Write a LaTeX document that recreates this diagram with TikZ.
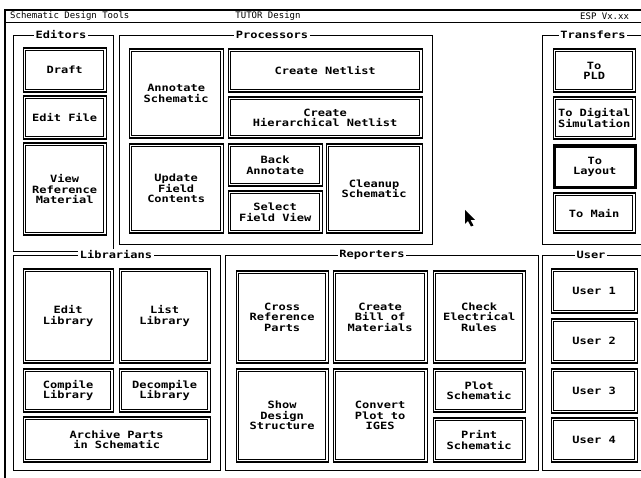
\documentclass[tikz,border=0pt]{standalone}
\usepackage{fontspec}
\newfontfamily\scrfont{DejaVu Sans Mono}[FakeStretch=1.2]
\newfontfamily\barfamily{DejaVu Sans Mono}
\newcommand\btnfont{\scrfont\bfseries\fontsize{10}{10.5}\selectfont}
\newcommand\barfont{\barfamily\fontsize{9}{10}\selectfont}
\newcommand\mkbtn[7][]{%
  \node[btn, #1, minimum width={(#5-#3-1)*1pt}, minimum height={(#6-#4-1)*1pt}] (#2) at (#3+0.5,#4+0.5) {#7};
  \draw[inner] ([shift={(3pt,-3pt)}]#2.north west) rectangle ([shift={(-3pt,3pt)}]#2.south east);}
\begin{document}
\begin{tikzpicture}[x=1pt,y=-1pt,
  btn/.style={draw, line width=1.3pt, anchor=north west, inner sep=0pt, align=center, font=\btnfont},
  inner/.style={draw, line width=0.7pt},
  selbtn/.style={line width=2.6pt},
  grp/.style={draw, line width=0.9pt},
  gtitle/.style={fill=white, inner sep=1.5pt, font=\btnfont},
  bartext/.style={font=\barfont, inner sep=0pt}]
\useasboundingbox[fill=white] (0,0) rectangle (641,478);
% outer screen frame
\draw[line width=1.1pt] (5,478) -- (5,10) -- (645,10);
\draw[line width=0.9pt] (5,22) -- (645,22);
\node[bartext, anchor=west] (tl) at (10,16) {Schematic Design Tools};
\node[bartext] (tc) at (268,16) {TUTOR Design};
\node[bartext, anchor=west] (tr) at (580,16) {ESP Vx.xx};
% group frames
\draw[grp] (13,35) rectangle (113,251);
\node[gtitle] (gEd) at (61,35) {Editors};
\draw[grp] (119,35) rectangle (432,244);
\node[gtitle] (gPr) at (272,35) {Processors};
\draw[grp] (542,35) rectangle (646,244);
\node[gtitle] (gTr) at (593,35) {Transfers};
\draw[grp] (13,255) rectangle (220,470);
\node[gtitle] (gLi) at (116,255) {Librarians};
\draw[grp] (225,255) rectangle (538,470);
\node[gtitle] (gRe) at (372,255) {Reporters};
\draw[grp] (542,255) rectangle (646,470);
\node[gtitle] (gUs) at (591,255) {User};
% Editors
\mkbtn{draft}{22}{47}{106}{92}{Draft}
\mkbtn{editfile}{22}{95}{106}{139}{Edit File}
\mkbtn{viewref}{22}{142}{106}{235}{View\\Reference\\Material}
% Processors
\mkbtn{annot}{128}{48}{223}{138}{Annotate\\Schematic}
\mkbtn{netlist}{227}{48}{422}{92}{Create Netlist}
\mkbtn{hnetlist}{227}{96}{422}{138}{Create\\Hierarchical Netlist}
\mkbtn{update}{128}{143}{223}{233}{Update\\Field\\Contents}
\mkbtn{back}{227}{143}{322}{186}{Back\\Annotate}
\mkbtn{select}{227}{190}{322}{233}{Select\\Field View}
\mkbtn{cleanup}{325}{143}{422}{233}{Cleanup\\Schematic}
% Transfers
\mkbtn{pld}{552}{48}{635}{92}{To\\PLD}
\mkbtn{digsim}{552}{96}{635}{139}{To Digital\\Simulation}
\mkbtn[selbtn]{layout}{552}{144}{635}{187}{To\\Layout}
\mkbtn{main}{552}{192}{635}{233}{To Main}
% Librarians
\mkbtn{editlib}{22}{268}{113}{363}{Edit\\Library}
\mkbtn{listlib}{118}{268}{210}{363}{List\\Library}
\mkbtn{complib}{22}{368}{113}{412}{Compile\\Library}
\mkbtn{decomplib}{118}{368}{210}{412}{Decompile\\Library}
\mkbtn{archive}{22}{416}{210}{462}{Archive Parts\\in Schematic}
% Reporters
\mkbtn{cross}{235}{270}{328}{363}{Cross\\Reference\\Parts}
\mkbtn{bom}{332}{270}{427}{363}{Create\\Bill of\\Materials}
\mkbtn{erc}{432}{270}{525}{363}{Check\\Electrical\\Rules}
\mkbtn{show}{235}{368}{328}{462}{Show\\Design\\Structure}
\mkbtn{iges}{332}{368}{427}{462}{Convert\\Plot to\\IGES}
\mkbtn{plot}{432}{368}{525}{412}{Plot\\Schematic}
\mkbtn{print}{432}{417}{525}{462}{Print\\Schematic}
% User
\mkbtn{u1}{550}{268}{637}{313}{User 1}
\mkbtn{u2}{550}{318}{637}{363}{User 2}
\mkbtn{u3}{550}{368}{637}{413}{User 3}
\mkbtn{u4}{550}{417}{637}{462}{User 4}
% mouse cursor
\fill (465,210) -- (465,224) -- (468,221) -- (471,226.5) -- (473.5,225.5) -- (470.5,220) -- (475,220) -- cycle;
\end{tikzpicture}
\end{document}
